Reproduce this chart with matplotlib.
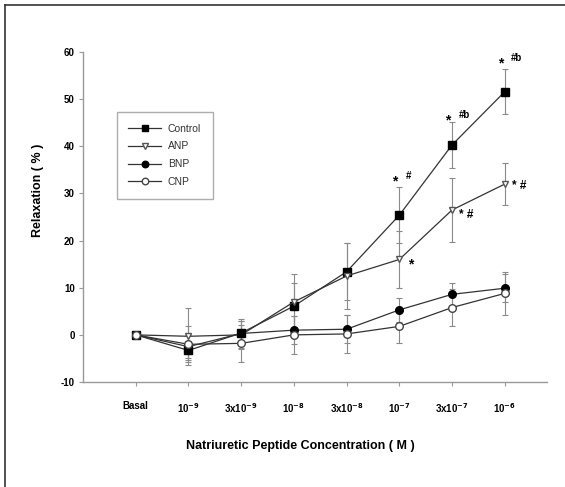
import matplotlib
matplotlib.use("Agg")
import matplotlib.pyplot as plt
from matplotlib.lines import Line2D

plt.rcParams['font.family'] = ['Liberation Sans', 'DejaVu Sans']
plt.rcParams['font.weight'] = 'bold'

x_labels = ['Basal', '10$^{-9}$', '3x10$^{-9}$', '10$^{-8}$', '3x10$^{-8}$',
            '10$^{-7}$', '3x10$^{-7}$', '10$^{-6}$']
x_pos = list(range(len(x_labels)))

control = [0, -3.3, 0.4, 6.1, 13.4, 25.4, 40.3, 51.6]
control_err = [0, 2.0, 2.5, 5.0, 6.0, 6.0, 4.8, 4.8]
anp = [0, -0.3, 0.0, 7.0, 12.5, 16.0, 26.5, 32.0]
anp_err = [0, 6.0, 3.0, 6.0, 7.0, 6.0, 6.7, 4.5]
bnp = [0, -2.5, 0.3, 1.0, 1.2, 5.3, 8.6, 9.9]
bnp_err = [0, 2.5, 3.0, 3.0, 3.0, 2.5, 2.5, 3.0]
cnp = [0, -2.0, -1.8, 0.0, 0.2, 1.8, 5.8, 8.8]
cnp_err = [0, 3.8, 4.0, 4.0, 4.0, 3.5, 4.0, 4.5]

fig = plt.figure(figsize=(5.65, 4.87), dpi=100)
ax = fig.add_axes([0.147, 0.2156, 0.821, 0.6774])

ecol = '#8a8a8a'
series = [
    ('Control', control, control_err, dict(marker='s', mfc='black', mec='black', ms=5.5)),
    ('ANP', anp, anp_err, dict(marker='v', mfc='white', mec='#555555', ms=4.5)),
    ('BNP', bnp, bnp_err, dict(marker='o', mfc='black', mec='black', ms=5.5)),
    ('CNP', cnp, cnp_err, dict(marker='o', mfc='white', mec='#444444', ms=5.5)),
]
handles = []
for name, vals, errs, st in series:
    ax.errorbar(x_pos, vals, yerr=errs, color='#333333', lw=0.9,
                ecolor=ecol, elinewidth=0.8, capsize=2.5, capthick=0.8,
                zorder=3, **st)
    hst = dict(st)
    hst['ms'] = st['ms'] * 0.85
    handles.append(Line2D([], [], color='#333333', lw=0.9, label=name, **hst))

# significance annotations
ann = [
    (7, 57.5, '*', '#b'),
    (6, 45.5, '*', '#b'),
    (5, 32.5, '*', '#'),
]
for xi, yi, s1, s2 in ann:
    ax.text(xi - 0.08, yi, s1, fontsize=10, ha='center', va='center', fontweight='bold')
    ax.text(xi + 0.12, yi + 1.2, s2, fontsize=7, ha='left', va='center', fontweight='bold')
ax.text(7.13, 31.5, '* #', fontsize=8.5, ha='left', va='center', fontweight='bold')
ax.text(6.13, 25.5, '* #', fontsize=8.5, ha='left', va='center', fontweight='bold')
ax.text(5.17, 15.0, '*', fontsize=10, ha='left', va='center', fontweight='bold')

ax.set_xlim(-1, 7.8)
ax.set_ylim(-10, 60)
ax.set_xticks(x_pos)
ax.set_xticklabels(x_labels, fontsize=7, fontweight='bold')
ax.set_yticks(range(-10, 61, 10))
ax.set_yticklabels([str(v) for v in range(-10, 61, 10)], fontsize=7, fontweight='bold')
for s in ['top', 'right']:
    ax.spines[s].set_visible(False)
for s in ['left', 'bottom']:
    ax.spines[s].set_color('#999999')
    ax.spines[s].set_linewidth(1.0)
ax.tick_params(axis='both', length=3, color='#999999')
ax.tick_params(axis='x', pad=11)
ax.tick_params(axis='y', pad=3)

ax.set_ylabel('Relaxation ( % )', fontsize=9, fontweight='bold')
ax.yaxis.set_label_coords(-0.084, 0.58)
ax.set_xlabel('Natriuretic Peptide Concentration ( M )', fontsize=9, fontweight='bold')
ax.xaxis.set_label_coords(0.468, -0.175)

leg = ax.legend(handles=handles, loc='upper left', bbox_to_anchor=(0.073, 0.818),
                fontsize=7.5, frameon=True, fancybox=False, edgecolor='#999999',
                handlelength=3.1, handletextpad=0.7, borderpad=1.1,
                labelspacing=0.75, borderaxespad=0)
leg.get_frame().set_linewidth(1.0)
for t in leg.get_texts():
    t.set_fontweight('normal')
    t.set_color('#333333')

# outer frame (left and top edges visible)
fig.add_artist(Line2D([5/565, 5/565], [0, 1 - 5/487], color='#333333', lw=1.2,
                      transform=fig.transFigure))
fig.add_artist(Line2D([5/565, 1], [1 - 5/487, 1 - 5/487], color='#333333', lw=1.2,
                      transform=fig.transFigure))

fig.savefig('out.png', dpi=100)
